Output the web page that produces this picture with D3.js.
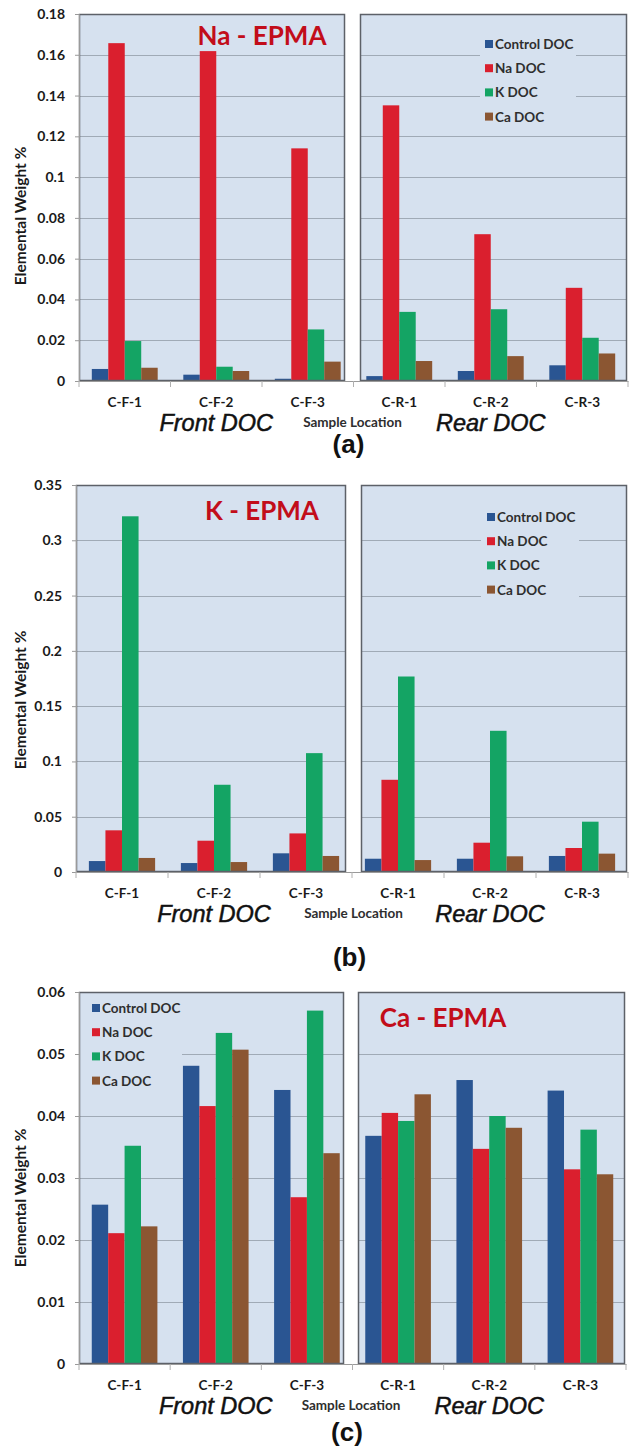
<!DOCTYPE html>
<html>
<head>
<meta charset="utf-8">
<script src="https://cdn.jsdelivr.net/npm/d3@7"></script>
<style>
  body { margin: 0; background: #fff; }
  svg text { font-family: Lato, "Open Sans", sans-serif; }
</style>
</head>
<body>
<div id="chart"></div>
<script>
const categories = ['C-F-1', 'C-F-2', 'C-F-3', 'C-R-1', 'C-R-2', 'C-R-3']
const seriesNames = ['Control DOC', 'Na DOC', 'K DOC', 'Ca DOC']
const seriesColors = ['#2a5592', '#da1f2e', '#14a464', '#8b5632']

// panel (a) Na - EPMA
const naControl = [0.0059, 0.0031, 0.0011, 0.0024, 0.0049, 0.0077]
const naNa = [0.1657, 0.1618, 0.1141, 0.1352, 0.072, 0.0457]
const naK = [0.0196, 0.007, 0.0253, 0.0339, 0.0352, 0.0212]
const naCa = [0.0065, 0.0049, 0.0095, 0.0098, 0.0122, 0.0135]
const naTicks = [0, 0.02, 0.04, 0.06, 0.08, 0.1, 0.12, 0.14, 0.16, 0.18]
const naTickLabels = ['0', '0.02', '0.04', '0.06', '0.08', '0.1', '0.12', '0.14', '0.16', '0.18']

// panel (b) K - EPMA
const kControl = [0.0099, 0.0081, 0.0169, 0.012, 0.012, 0.0145]
const kNa = [0.0377, 0.0283, 0.0349, 0.0834, 0.0265, 0.0217]
const kK = [0.3217, 0.0789, 0.1075, 0.1768, 0.1277, 0.0455]
const kCa = [0.0127, 0.009, 0.0145, 0.0108, 0.0142, 0.0166]
const kTicks = [0, 0.05, 0.1, 0.15, 0.2, 0.25, 0.3, 0.35]
const kTickLabels = ['0', '0.05', '0.1', '0.15', '0.2', '0.25', '0.3', '0.35']

// panel (c) Ca - EPMA
const caControl = [0.0257, 0.0481, 0.0442, 0.0368, 0.0458, 0.0441]
const caNa = [0.0211, 0.0416, 0.0269, 0.0405, 0.0347, 0.0314]
const caK = [0.0352, 0.0534, 0.057, 0.0392, 0.04, 0.0378]
const caCa = [0.0222, 0.0507, 0.034, 0.0435, 0.0381, 0.0306]
const caTicks = [0, 0.01, 0.02, 0.03, 0.04, 0.05, 0.06]
const caTickLabels = ['0', '0.01', '0.02', '0.03', '0.04', '0.05', '0.06']

const boxFill = '#d6e1ef'
const gridColor = '#a0aab6'
const titleRed = '#c20d1a'

const panels = [
  { title: 'Na - EPMA', series: [naControl, naNa, naK, naCa], ticks: naTicks, tickLabels: naTickLabels,
    top: 14, bottom: 381, left: 79, right: 627, split: [345, 360],
    titleX: 262, titleY: 45, legend: { x: 480, y: 32, w: 96, h: 94, pad: 5 }, letter: '(a)', letterY: 453, yLabelY: 216 },
  { title: 'K - EPMA', series: [kControl, kNa, kK, kCa], ticks: kTicks, tickLabels: kTickLabels,
    top: 485, bottom: 872, left: 76, right: 627, split: [346, 361],
    titleX: 262, titleY: 520, legend: { x: 481, y: 505, w: 98, h: 99, pad: 6 }, letter: '(b)', letterY: 966, yLabelY: 700 },
  { title: 'Ca - EPMA', series: [caControl, caNa, caK, caCa], ticks: caTicks, tickLabels: caTickLabels,
    top: 992, bottom: 1364, left: 79, right: 625, split: [344, 358],
    titleX: 443, titleY: 1027, legend: { x: 80, y: 996, w: 102, h: 98, pad: 12 }, letter: '(c)', letterY: 1441, yLabelY: 1198 }
]

const svg = d3.select('#chart').append('svg').attr('width', 631).attr('height', 1455)

panels.forEach(p => {
  const g = svg.append('g')
  const x0 = d3.scaleBand().domain(categories).range([p.left, p.right + 1])
  const bw = x0.bandwidth()
  const x1 = d3.scaleBand().domain(seriesNames).range([bw * 0.14, bw * 0.86])
  const y = d3.scaleLinear().domain([0, p.ticks[p.ticks.length - 1]]).range([p.bottom, p.top])

  const boxes = [[p.left, p.split[0]], [p.split[1], p.right]]

  // shaded boxes
  g.selectAll('rect.box').data(boxes).enter().append('rect')
    .attr('x', d => d[0]).attr('y', p.top).attr('width', d => d[1] - d[0]).attr('height', p.bottom - p.top)
    .attr('fill', boxFill)

  // gridlines inside boxes
  boxes.forEach(b => {
    g.selectAll(null).data(p.ticks.slice(1)).enter().append('line')
      .attr('x1', b[0]).attr('x2', b[1])
      .attr('y1', d => Math.round(y(d)) + 0.5).attr('y2', d => Math.round(y(d)) + 0.5)
      .attr('stroke', gridColor).attr('stroke-width', 1)
  })

  // legend background (covers gridlines)
  g.append('rect').attr('x', p.legend.x).attr('y', p.legend.y)
    .attr('width', p.legend.w).attr('height', p.legend.h).attr('fill', boxFill)

  // bars
  const groups = g.selectAll('g.grp').data(categories).enter().append('g')
    .attr('transform', c => `translate(${x0(c)},0)`)
  groups.selectAll('rect').data((c, ci) => p.series.map((s, si) => ({ name: seriesNames[si], v: s[ci], color: seriesColors[si] })))
    .enter().append('rect')
    .attr('x', d => x1(d.name)).attr('width', x1.bandwidth())
    .attr('y', d => y(d.v)).attr('height', d => y(0) - y(d.v))
    .attr('fill', d => d.color)

  // box borders
  g.selectAll('rect.border').data(boxes).enter().append('rect')
    .attr('x', d => d[0] + 0.5).attr('y', p.top + 0.5).attr('width', d => d[1] - d[0] - 1).attr('height', p.bottom - p.top - 1)
    .attr('fill', 'none').attr('stroke', '#5d6168').attr('stroke-width', 1.5)

  // y axis
  const yAxis = g.append('g').attr('transform', `translate(${p.left},0)`)
    .call(d3.axisLeft(y).tickValues(p.ticks).tickFormat((d, i) => p.tickLabels[i]).tickSize(4).tickPadding(10))
  yAxis.select('.domain').attr('stroke', '#9a9a9a')
  yAxis.selectAll('.tick line').attr('stroke', '#9a9a9a')
  yAxis.selectAll('text').attr('font-size', 14).attr('font-weight', 700).attr('fill', '#1a1a1a')

  // x axis
  const xAxis = g.append('g').attr('transform', `translate(0,${p.bottom})`)
    .call(d3.axisBottom(x0).tickSize(0).tickPadding(16))
  xAxis.select('.domain').attr('stroke', '#9a9a9a')
  xAxis.selectAll('text').attr('font-size', 13.5).attr('font-weight', 700).attr('fill', '#1a1a1a')
  const bounds = categories.map(c => x0(c)).concat([x0(categories[5]) + bw])
  g.selectAll(null).data(bounds).enter().append('line')
    .attr('x1', d => d).attr('x2', d => d).attr('y1', p.bottom).attr('y2', p.bottom + 6)
    .attr('stroke', '#b0b0b0')

  // legend
  const leg = g.selectAll('g.leg').data(seriesNames).enter().append('g')
    .attr('transform', (d, i) => `translate(${p.legend.x + p.legend.pad},${p.legend.y + 12 + i * 24.2})`)
  leg.append('rect').attr('x', 0).attr('y', -4).attr('width', 8).attr('height', 8).attr('fill', (d, i) => seriesColors[i])
  leg.append('text').attr('x', 10).attr('y', 5).text(d => d)
    .attr('font-size', 13.5).attr('font-weight', 700).attr('fill', '#2e2e2e')

  // panel title
  g.append('text').attr('x', p.titleX).attr('y', p.titleY).attr('text-anchor', 'middle')
    .attr('font-size', 26).attr('font-weight', 700).attr('fill', titleRed).text(p.title)

  // y title
  g.append('text').attr('transform', `translate(26,${p.yLabelY}) rotate(-90)`).attr('text-anchor', 'middle')
    .attr('font-size', 15.5).attr('font-weight', 700).attr('fill', '#1a1a1a').text('Elemental Weight %')

  // group labels
  const subY = p.bottom + 50
  g.selectAll(null).data([['C-F-2', 'Front DOC'], ['C-R-2', 'Rear DOC']]).enter().append('text')
    .attr('x', d => x0(d[0]) + bw / 2).attr('y', subY).attr('text-anchor', 'middle')
    .style('font-family', '"Liberation Sans", Arial, sans-serif').style('font-style', 'italic')
    .attr('font-size', 23.5).attr('fill', '#111').attr('stroke', '#111').attr('stroke-width', 0.5)
    .text(d => d[1])
  g.append('text').attr('x', (p.split[0] + p.split[1]) / 2).attr('y', subY - 4).attr('text-anchor', 'middle')
    .attr('font-size', 13.5).attr('font-weight', 700).attr('fill', '#2e2e2e').text('Sample Location')

  // panel letter
  g.append('text').attr('x', (p.split[0] + p.split[1]) / 2 - 4).attr('y', p.letterY).attr('text-anchor', 'middle')
    .style('font-family', '"Liberation Sans Narrow", "Liberation Sans", Arial, sans-serif')
    .attr('font-size', 26).attr('font-weight', 700).attr('fill', '#111').text(p.letter)
})
</script>
</body>
</html>
